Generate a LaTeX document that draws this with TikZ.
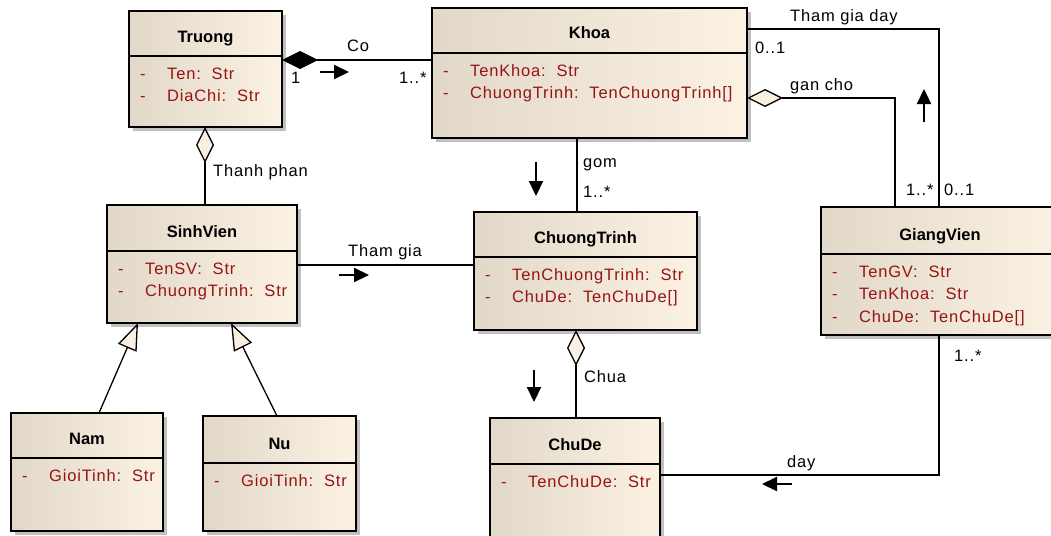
\documentclass[tikz,border=0pt]{standalone}
\usepackage{fontspec}
\setmainfont{Liberation Sans}
\newfontfamily\lsfont[LetterSpace=5]{Liberation Sans}
\usetikzlibrary{arrows.meta,calc}
\definecolor{boxL}{RGB}{226,216,201}
\definecolor{boxR}{RGB}{251,242,228}
\definecolor{attrc}{RGB}{150,20,20}
\definecolor{shadowc}{RGB}{192,192,192}
\definecolor{cream}{RGB}{250,240,226}
\tikzset{
  classbox/.style={draw=black, line width=1.5pt, left color=boxL, right color=boxR, inner sep=0pt, outer sep=0pt},
  boxline/.style={line width=1.5pt},
  titlef/.style={font=\fontsize{16.5}{19}\selectfont\bfseries, inner sep=0pt, anchor=base},
  attrf/.style={font=\lsfont\fontsize{16.5}{18}\selectfont, text=attrc, inner sep=0pt, anchor=base west},
  lbl/.style={font=\lsfont\fontsize{16.5}{18}\selectfont, inner sep=0pt, anchor=base west},
  conn/.style={line width=1.3pt},
  odia/.style={line width=1.3pt, {Diamond[fill=cream,length=36pt,width=18pt]}-},
  fdia/.style={line width=1.3pt, {Diamond[fill=black,length=36pt,width=18pt]}-},
  gen/.style={line width=1.3pt, -{Triangle[fill=cream,length=27pt,width=20pt]}},
  marker/.style={line width=2.2pt, -{Triangle[length=15pt,width=14pt]}},
}
% #1 name, #2 x1, #3 y1, #4 x2, #5 y2, #6 divider y
\newcommand\umlclass[6]{%
  \fill[shadowc] ({#2+4},{#3+4}) rectangle ({#4+4},{#5+4});
  \pgfmathsetmacro\cw{#4-#2}\pgfmathsetmacro\ch{#5-#3}%
  \node[classbox, minimum width=\cw pt, minimum height=\ch pt] (#1) at ({(#2+#4)/2},{(#3+#5)/2}) {};
  \draw[boxline] (#2,#6) -- (#4,#6);
}
% #1 name, #2 x1, #3 baseline, #4 text
\newcommand\attrrow[4]{%
  \node[attrf] (#1-d) at ({#2+11},#3) {-};
  \node[attrf] (#1-t) at ({#2+38},#3) {#4};
}
\begin{document}
\begin{tikzpicture}[x=1pt,y=-1pt]
\clip (0,0) rectangle (1051,535);
\fill[white] (0,0) rectangle (1051,535);

% classes
\umlclass{Truong}{129}{11}{282}{127}{56}
\node[titlef] (Truong-h) at (205.5,42) {Truong};
\attrrow{Truong-a1}{129}{79}{Ten:\ \ Str}
\attrrow{Truong-a2}{129}{101.5}{DiaChi:\ \ Str}

\umlclass{Khoa}{432}{8}{747}{138}{53}
\node[titlef] (Khoa-h) at (589.5,39) {Khoa};
\attrrow{Khoa-a1}{432}{76}{TenKhoa:\ \ Str}
\attrrow{Khoa-a2}{432}{98.5}{ChuongTrinh:\ \ TenChuongTrinh[]}

\umlclass{SinhVien}{107}{205}{297}{323}{251}
\node[titlef] (SinhVien-h) at (202,237) {SinhVien};
\attrrow{SinhVien-a1}{107}{274}{TenSV:\ \ Str}
\attrrow{SinhVien-a2}{107}{296.5}{ChuongTrinh:\ \ Str}

\umlclass{ChuongTrinh}{474}{212}{697}{330}{257}
\node[titlef] (ChuongTrinh-h) at (585.5,243) {ChuongTrinh};
\attrrow{ChuongTrinh-a1}{474}{280}{TenChuongTrinh:\ \ Str}
\attrrow{ChuongTrinh-a2}{474}{302.5}{ChuDe:\ \ TenChuDe[]}

\umlclass{GiangVien}{821}{207}{1059}{335}{254}
\node[titlef] (GiangVien-h) at (940,240) {GiangVien};
\attrrow{GiangVien-a1}{821}{277}{TenGV:\ \ Str}
\attrrow{GiangVien-a2}{821}{299.5}{TenKhoa:\ \ Str}
\attrrow{GiangVien-a3}{821}{322}{ChuDe:\ \ TenChuDe[]}

\umlclass{Nam}{11}{413}{163}{531}{458}
\node[titlef] (Nam-h) at (87,444) {Nam};
\attrrow{Nam-a1}{11}{481}{GioiTinh:\ \ Str}

\umlclass{Nu}{203}{416}{356}{531}{463}
\node[titlef] (Nu-h) at (279.5,449) {Nu};
\attrrow{Nu-a1}{203}{486}{GioiTinh:\ \ Str}

\umlclass{ChuDe}{490}{418}{660}{545}{464}
\node[titlef] (ChuDe-h) at (575,450) {ChuDe};
\attrrow{ChuDe-a1}{490}{487}{TenChuDe:\ \ Str}

% connectors
\draw[fdia] ($(Truong.north east)+(0,49)$) -- ($(Khoa.north west)+(0,52)$);
\draw[odia] ($(Truong.south west)+(76,0)$) -- ($(SinhVien.north west)+(98,0)$);
\draw[conn] ($(Khoa.south west)+(145,0)$) -- ($(ChuongTrinh.north west)+(103,0)$);
\draw[conn] ($(SinhVien.north east)+(0,60)$) -- ($(ChuongTrinh.north west)+(0,53)$);
\draw[odia] ($(ChuongTrinh.south west)+(102,0)$) -- ($(ChuDe.north west)+(86,0)$);
\draw[conn] ($(Khoa.north east)+(0,21)$) -| ($(GiangVien.north west)+(118,0)$);
\draw[odia] ($(Khoa.north east)+(0,90)$) -| ($(GiangVien.north west)+(74,0)$);
\draw[conn] ($(GiangVien.south west)+(118,0)$) |- ($(ChuDe.north east)+(0,57)$);
\draw[gen] ($(Nam.north west)+(88,0)$) -- ($(SinhVien.south west)+(31,0)$);
\draw[gen] ($(Nu.north west)+(74,0)$) -- ($(SinhVien.south west)+(124,0)$);

% direction markers
\draw[marker] (320,72) -- (349,72);
\draw[marker] (536,162) -- (536,196);
\draw[marker] (339,275) -- (369,275);
\draw[marker] (534,370) -- (534,402);
\draw[marker] (924,122) -- (924,89);
\draw[marker] (792,484) -- (762,484);

% labels
\node[lbl, anchor=base] (l-co) at (358,52) {Co};
\node[lbl] (l-co1) at (291,83) {1};
\node[lbl] (l-co2) at (399,83) {1..*};
\node[lbl] (l-tp) at (213,176) {Thanh phan};
\node[lbl] (l-gom) at (583,167) {gom};
\node[lbl] (l-gom2) at (583,197) {1..*};
\node[lbl] (l-tg) at (348,256) {Tham gia};
\node[lbl] (l-chua) at (584,382) {Chua};
\node[lbl] (l-tgd) at (790,22) {Tham gia day};
\node[lbl] (l-tgd1) at (755,53) {0..1};
\node[lbl] (l-gc) at (790,90) {gan cho};
\node[lbl] (l-gc2) at (906,195) {1..*};
\node[lbl] (l-tgd2) at (944,195) {0..1};
\node[lbl] (l-day) at (787,467) {day};
\node[lbl] (l-day2) at (954,361) {1..*};
\end{tikzpicture}
\end{document}
